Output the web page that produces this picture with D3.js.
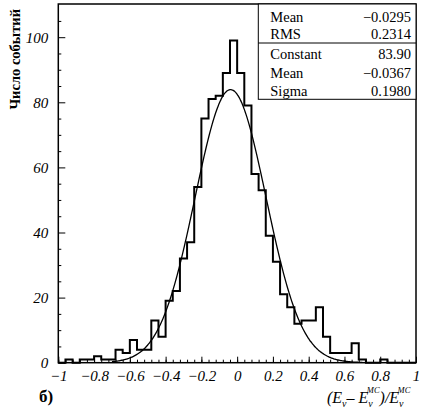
<!DOCTYPE html>
<html>
<head>
<meta charset="utf-8">
<script src="https://cdn.jsdelivr.net/npm/d3@7"></script>
<style>
  body { margin: 0; background: #fff; }
  svg { display: block; }
  text { font-family: "Liberation Serif", "DejaVu Serif", serif; fill: #000; }
</style>
</head>
<body>
<div id="vis"></div>
<script>
// histogram counts, 50 bins of width 0.04 from -1 to 1
const binStart = -1;
const binWidth = 0.04;
const counts = [
  0, 1, 0, 1, 1, 2, 1, 1, 4, 3,
  7, 4, 4, 13, 8, 19, 22, 32, 37, 54,
  75, 81, 82, 89, 99, 89, 79, 58, 53, 39,
  31, 21, 17, 12, 13, 13, 17, 8, 3, 3,
  3, 6, 1, 0, 0, 1, 0, 0, 0, 0
];

// gaussian fit parameters (from the stats box)
const fitConstant = 83.90;
const fitMean = -0.0367;
const fitSigma = 0.1980;
const fitRange = [-0.7, 0.7];

const statsTop = [["Mean", "\u22120.0295"], ["RMS", "0.2314"]];
const statsFit = [["Constant", "83.90"], ["Mean", "\u22120.0367"], ["Sigma", "0.1980"]];

const xTicks = [-1, -0.8, -0.6, -0.4, -0.2, 0, 0.2, 0.4, 0.6, 0.8, 1];
const yTicks = [0, 20, 40, 60, 80, 100];

////////////////////////////////////////
////////////// SVG Setup ///////////////
////////////////////////////////////////

const W = 422, H = 409;
const margin = { top: 4, right: 6, bottom: 46.3, left: 58.3 };
const serif = '"Liberation Serif", "DejaVu Serif", serif';

const svg = d3.select('#vis').append('svg')
    .attr('width', W)
    .attr('height', H);

const g = svg.append('g')
    .attr('transform', `translate(${margin.left}, ${margin.top})`);

const width = W - margin.left - margin.right;
const height = H - margin.top - margin.bottom;

////////////////////////////////////////
////////////// Scales //////////////////
////////////////////////////////////////

const x = d3.scaleLinear().domain([-1, 1]).range([0, width]);
const y = d3.scaleLinear().domain([0, 110.2]).range([height, 0]);

const fmt = d => (d < 0 ? "\u2212" : "") + Math.abs(d);

////////////////////////////////////////
////////////// Axes ////////////////////
////////////////////////////////////////

// minor ticks
const xMinor = d3.range(0, 51).map(i => -1 + i * 0.04);
const yMinor = d3.range(0, 23).map(i => i * 5).filter(v => v % 20 !== 0 && v < 110);

function styleAxis(a) {
    a.select('.domain').remove();
    a.attr('font-family', null).attr('font-size', null);
    a.selectAll('line').attr('stroke-width', 1);
    a.selectAll('text')
        .style('font-family', serif)
        .style('font-style', 'italic')
        .style('font-size', '15px')
        .attr('fill', '#000');
}

g.append('g')
    .attr('transform', `translate(0, ${height})`)
    .call(d3.axisBottom(x).tickValues(xMinor).tickSize(-3).tickFormat(''))
    .call(styleAxis);

g.append('g')
    .attr('transform', `translate(0, ${height})`)
    .call(d3.axisBottom(x).tickValues(xTicks).tickSize(-6).tickPadding(8).tickFormat(fmt))
    .call(styleAxis);

g.append('g')
    .call(d3.axisLeft(y).tickValues(yMinor).tickSize(-3).tickFormat(''))
    .call(styleAxis);

g.append('g')
    .call(d3.axisLeft(y).tickValues(yTicks).tickSize(-7).tickPadding(10).tickFormat(fmt))
    .call(styleAxis);

////////////////////////////////////////
////////////// Histogram ///////////////
////////////////////////////////////////

const steps = [];
steps.push([x(binStart), y(0)]);
counts.forEach((c, i) => {
    const x0 = binStart + i * binWidth;
    steps.push([x(x0), y(c)]);
    steps.push([x(x0 + binWidth), y(c)]);
});
steps.push([x(binStart + counts.length * binWidth), y(0)]);

g.append('path')
    .attr('d', d3.line()(steps))
    .attr('fill', 'none')
    .attr('stroke', '#000')
    .attr('stroke-width', 2)
    .attr('stroke-linejoin', 'miter');

// fit curve
const fitX = d3.range(fitRange[0], fitRange[1] + 1e-9, 0.005);
const gauss = v => fitConstant * Math.exp(-0.5 * Math.pow((v - fitMean) / fitSigma, 2));

g.append('path')
    .attr('d', d3.line().x(v => x(v)).y(v => y(gauss(v))).curve(d3.curveBasis)(fitX))
    .attr('fill', 'none')
    .attr('stroke', '#000')
    .attr('stroke-width', 1.3);

// frame
g.append('rect')
    .attr('width', width)
    .attr('height', height)
    .attr('fill', 'none')
    .attr('stroke', '#000')
    .attr('stroke-width', 1.5);

////////////////////////////////////////
////////////// Stats box ///////////////
////////////////////////////////////////

const boxX = 200;
const box = g.append('g').attr('transform', `translate(${boxX}, 0)`);
const boxW = width - boxX;
const boxH = 95.3;
const divY = 39;

box.append('rect')
    .attr('width', boxW)
    .attr('height', boxH)
    .attr('fill', '#fff')
    .attr('stroke', '#000')
    .attr('stroke-width', 1);

box.append('line')
    .attr('x1', 0).attr('x2', boxW)
    .attr('y1', divY).attr('y2', divY)
    .attr('stroke', '#000')
    .attr('stroke-width', 1);

const rows = statsTop.map((r, i) => ({ r, yy: 18 + i * 17 }))
    .concat(statsFit.map((r, i) => ({ r, yy: 55 + i * 18.5 })));

rows.forEach(({ r, yy }) => {
    box.append('text')
        .attr('x', 12).attr('y', yy)
        .style('font-size', '14.5px')
        .text(r[0]);
    box.append('text')
        .attr('x', boxW - 5).attr('y', yy)
        .attr('text-anchor', 'end')
        .style('font-size', '14.5px')
        .text(r[1]);
});

////////////////////////////////////////
////////////// Titles //////////////////
////////////////////////////////////////

svg.append('text')
    .attr('transform', 'translate(20, 9) rotate(-90)')
    .attr('text-anchor', 'end')
    .style('font-weight', 'bold')
    .style('font-size', '14.5px')
    .text('Число событий');

const xt = svg.append('text')
    .attr('x', 327)
    .attr('y', 403)
    .style('font-style', 'italic')
    .style('font-size', '16px');
xt.append('tspan').text('(E');
xt.append('tspan').style('font-size', '10px').attr('dy', 4).text('ν');
xt.append('tspan').attr('dy', -4).text('\u2013 E');
xt.append('tspan').style('font-size', '10px').attr('dy', 4).text('ν');
xt.append('tspan').style('font-size', '8.5px').attr('dx', -6).attr('dy', -14.5).text('MC');
xt.append('tspan').attr('dy', 10.5).text(')/E');
xt.append('tspan').style('font-size', '10px').attr('dy', 4).text('ν');
xt.append('tspan').style('font-size', '8.5px').attr('dx', -6).attr('dy', -14.5).text('MC');

svg.append('text')
    .attr('x', 39)
    .attr('y', 402)
    .style('font-weight', 'bold')
    .style('font-size', '17px')
    .text('б)');
</script>
</body>
</html>
